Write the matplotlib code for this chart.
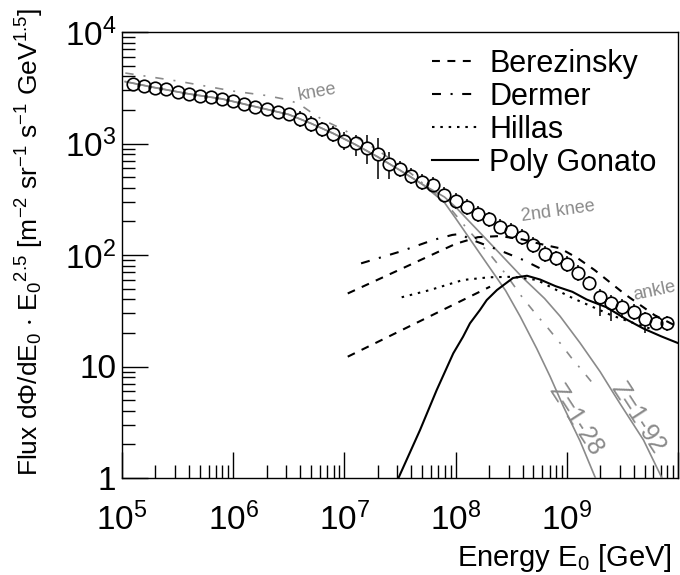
import numpy as np
import matplotlib
matplotlib.use("Agg")
import matplotlib.pyplot as plt
from matplotlib.ticker import LogLocator, NullFormatter

plt.rcParams['font.family'] = ['Liberation Sans', 'DejaVu Sans']
plt.rcParams['mathtext.fontset'] = 'custom'
plt.rcParams['mathtext.rm'] = 'Liberation Sans'
plt.rcParams['mathtext.it'] = 'Liberation Sans:italic'
plt.rcParams['mathtext.default'] = 'regular'

# measured spectrum, log10(E/GeV) and log10(flux * E^2.5)
data_logE = [5.1, 5.2, 5.3, 5.4, 5.5, 5.6, 5.7, 5.8, 5.9, 6.0,
             6.1, 6.2, 6.3, 6.4, 6.5, 6.6, 6.7, 6.8, 6.9, 7.0,
             7.1, 7.2, 7.3, 7.4, 7.5, 7.6, 7.7, 7.8, 7.9, 8.0,
             8.1, 8.2, 8.3, 8.4, 8.5, 8.6, 8.7, 8.8, 8.9, 9.0,
             9.1, 9.2, 9.3, 9.4, 9.5, 9.6, 9.7, 9.8, 9.9]
data_logF = [3.534, 3.516, 3.495, 3.486, 3.465, 3.444, 3.426, 3.420, 3.399, 3.381,
             3.352, 3.330, 3.307, 3.285, 3.262, 3.220, 3.175, 3.127, 3.085, 3.025,
             3.002, 2.957, 2.906, 2.816, 2.769, 2.709, 2.657, 2.628, 2.538, 2.487,
             2.428, 2.368, 2.320, 2.254, 2.218, 2.164, 2.090, 2.009, 1.970, 1.919,
             1.836, 1.746, 1.626, 1.567, 1.531, 1.491, 1.423, 1.393, 1.387]
# errors in decades (up / down)
err_up = [0.035]*15 + [0.07]*4 + [0.08, 0.075, 0.117, 0.146, 0.11] + [0.07]*25
err_dn = [0.035]*15 + [0.07]*4 + [0.08, 0.11, 0.143, 0.227, 0.137] + \
         [0.07]*17 + [0.06, 0.17, 0.16, 0.10, 0.07, 0.12, 0.07, 0.07]

# galactic components (grey)
z28_logE = [5.03, 5.3, 5.6, 5.9, 6.2, 6.5, 6.7, 6.9, 7.1, 7.3, 7.5, 7.7,
            7.9, 8.0, 8.2, 8.45, 8.58, 8.73, 8.85, 8.97, 9.12, 9.27]
z28_logF = [3.555, 3.50, 3.445, 3.40, 3.33, 3.26, 3.18, 3.09, 2.99, 2.88, 2.76, 2.635,
            2.47, 2.33, 2.04, 1.68, 1.45, 1.16, 0.91, 0.64, 0.33, -0.03]
z92_logE = [5.03, 5.3, 5.6, 5.9, 6.2, 6.5, 6.7, 6.9, 7.1, 7.3, 7.5, 7.7,
            7.9, 8.0, 8.34, 8.6, 8.8, 8.94, 9.12, 9.3, 9.42, 9.48, 9.69, 9.87]
z92_logF = [3.555, 3.50, 3.445, 3.40, 3.33, 3.26, 3.18, 3.09, 2.99, 2.88, 2.76, 2.635,
            2.52, 2.43, 2.074, 1.80, 1.61, 1.45, 1.21, 0.953, 0.76, 0.665, 0.34, -0.03]
knee_logE = [5.03, 5.5, 6.0, 6.3, 6.5, 6.6, 6.7, 6.8, 7.0, 7.3, 7.6, 7.9, 8.1,
             8.33, 8.45, 8.6, 8.73, 8.83, 8.94, 9.04, 9.15, 9.22]
knee_logF = [3.632, 3.56, 3.47, 3.43, 3.39, 3.35, 3.28, 3.215, 3.12, 2.94, 2.73, 2.48, 2.24,
             1.98, 1.83, 1.62, 1.46, 1.345, 1.21, 1.08, 0.95, 0.865]

# extragalactic models
ber_logE = [7.03, 7.5, 8.0, 8.2, 8.4, 8.6, 8.8, 8.94, 9.1, 9.25, 9.52, 9.79, 9.97]
ber_logF = [1.655, 1.87, 2.10, 2.16, 2.17, 2.14, 2.09, 2.06, 1.97, 1.865, 1.65, 1.46, 1.37]
ber2_logE = [7.03, 8.31]
ber2_logF = [1.088, 1.716]
der_logE = [7.15, 7.5, 7.8, 7.97, 8.05, 8.11, 8.31, 8.45, 8.61, 8.76]
der_logF = [1.925, 2.03, 2.135, 2.18, 2.19, 2.15, 2.074, 2.02, 1.955, 1.88]
hil_logE = [7.515, 7.77, 8.067, 8.3, 8.516, 8.732, 8.88, 9.06, 9.22, 9.40, 9.57, 9.75]
hil_logF = [1.621, 1.686, 1.776, 1.80, 1.805, 1.776, 1.70, 1.61, 1.54, 1.46, 1.40, 1.34]
pg_logE = [7.45, 7.68, 7.83, 7.979, 8.067, 8.129, 8.219, 8.28, 8.372, 8.516, 8.642,
           8.76, 8.9, 9.05, 9.18, 9.36, 9.54, 9.69, 9.85, 10.0]
pg_logF = [-0.08, 0.43, 0.789, 1.118, 1.267, 1.387, 1.507, 1.596, 1.686, 1.794, 1.814,
           1.78, 1.72, 1.67, 1.60, 1.53, 1.42, 1.34, 1.27, 1.21]

def p10(a):
    return 10**np.array(a)

fig = plt.figure(figsize=(6.8, 5.75), dpi=100)
ax = fig.add_axes([122/680, 97/575, 556/680, 446/575])
ax.set_xscale('log')
ax.set_yscale('log')
ax.set_xlim(1e5, 1e10)
ax.set_ylim(1, 1e4)

grey = '#8a8a8a'
E = p10(data_logE)
F = p10(data_logF)
lo = F - F*10**(-np.array(err_dn))
hi = F*10**np.array(err_up) - F
ax.errorbar(E, F, yerr=[lo, hi], fmt='none', ecolor='k', elinewidth=1.1, zorder=1)
ax.plot(E, F, 'o', ms=9, mfc='white', mec='none', zorder=2)

ax.plot(p10(z28_logE), p10(z28_logF), color=grey, lw=1.2, zorder=3)
ax.plot(p10(z92_logE), p10(z92_logF), color=grey, lw=1.2, zorder=3)
ax.plot(p10(knee_logE), p10(knee_logF), color=grey, lw=1.2, zorder=3,
        linestyle=(0, (5, 6, 1.2, 6)))

ax.plot(E, F, 'o', ms=9, mfc='none', mec='k', mew=1.2, zorder=4)

dash = (0, (3.8, 3.6))
dashdot = (0, (4.3, 4.6, 1.0, 4.6))
dot = (0, (1.2, 2.8))
ax.plot(p10(ber_logE), p10(ber_logF), color='k', lw=1.5, ls=dash, zorder=5, label='Berezinsky')
ax.plot(p10(ber2_logE), p10(ber2_logF), color='k', lw=1.5, ls=dash, zorder=5)
ax.plot(p10(der_logE), p10(der_logF), color='k', lw=1.5, ls=dashdot, zorder=5, label='Dermer')
ax.plot(p10(hil_logE), p10(hil_logF), color='k', lw=1.5, ls=dot, zorder=5, label='Hillas')
ax.plot(p10(pg_logE), p10(pg_logF), color='k', lw=1.5, zorder=5, label='Poly Gonato')

# annotations
ax.text(5.67e6, 2900, 'knee', color=grey, fontsize=13, rotation=10, ha='center', va='center')
ax.text(8.3e8, 248, '2nd knee', color=grey, fontsize=13, rotation=8, ha='center', va='center')
ax.text(6.2e9, 47.5, 'ankle', color=grey, fontsize=13, rotation=12, ha='center', va='center')
ax.text(1.21e9, 3.31, 'Z=1-28', color=grey, fontsize=18, rotation=-57, ha='center', va='center')
ax.text(4.37e9, 3.45, 'Z=1-92', color=grey, fontsize=18, rotation=-57, ha='center', va='center')

ax.legend(loc='upper left', bbox_to_anchor=(0.5576, 0.962), frameon=False, fontsize=22,
          handlelength=1.5, handletextpad=0.38, labelspacing=0.1, borderpad=0,
          borderaxespad=0)

# axes in ROOT style
ax.set_xticks([1e5, 1e6, 1e7, 1e8, 1e9, 1e10])
ax.set_xticklabels(['$10^{5}$', '$10^{6}$', '$10^{7}$', '$10^{8}$', '$10^{9}$', ''])
ax.set_yticks([1, 10, 100, 1000, 10000])
ax.set_yticklabels(['1', '10', '$10^{2}$', '$10^{3}$', '$10^{4}$'])
for a in (ax.xaxis, ax.yaxis):
    a.set_minor_locator(LogLocator(base=10, subs=np.arange(2, 10), numticks=100))
    a.set_minor_formatter(NullFormatter())
ax.tick_params(which='both', direction='in', top=False, right=False, width=1.0)
ax.tick_params(which='major', length=19, labelsize=24)
ax.tick_params(which='minor', length=9.5)
ax.tick_params(axis='x', which='major', pad=18)
ax.tick_params(axis='y', which='major', pad=4)
for s in ax.spines.values():
    s.set_linewidth(1.0)

ax.set_ylabel(r'Flux d$\Phi$/dE$_0$ $\cdot$ E$_0$$^{2.5}$ [m$^{-2}$ sr$^{-1}$ s$^{-1}$ GeV$^{1.5}$]',
              fontsize=19)
ax.yaxis.set_label_coords(-0.137, 0.53)
ax.set_xlabel('Energy E$_0$ [GeV]', fontsize=21, ha='right')
ax.xaxis.set_label_coords(0.989, -0.143)

fig.savefig('out.png', dpi=100)
